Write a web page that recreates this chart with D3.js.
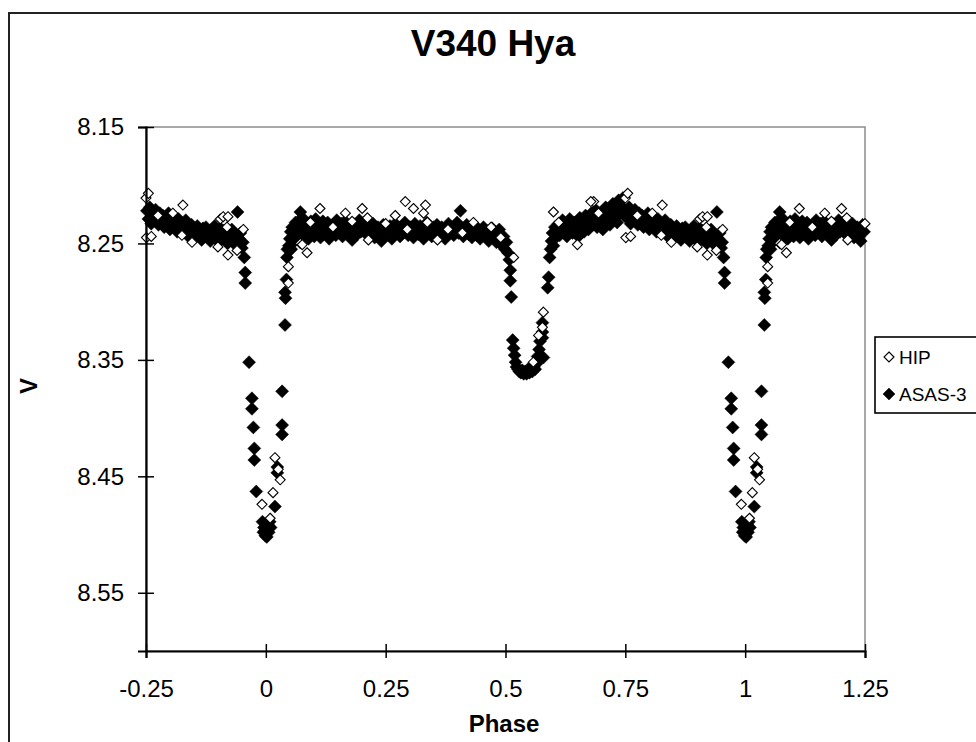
<!DOCTYPE html>
<html>
<head>
<meta charset="utf-8">
<script src="https://cdn.jsdelivr.net/npm/d3@7"></script>
<style>
  html, body { margin: 0; padding: 0; background: #ffffff; }
  svg { display: block; }
  text { font-family: "Liberation Sans", Arial, sans-serif; fill: #000; }
</style>
</head>
<body>
<svg id="chart" width="976" height="742"></svg>
<script>
// ---------------- data (phase-folded light curve, one cycle) ----------------
const title = "V340 Hya";
const xLabel = "Phase";
const yLabel = "V";
const seriesNames = ["HIP", "ASAS-3"];
const xTicks = [-0.25, 0, 0.25, 0.5, 0.75, 1, 1.25];
const xTickLabels = ["-0.25", "0", "0.25", "0.5", "0.75", "1", "1.25"];
const yTicks = [8.15, 8.25, 8.35, 8.45, 8.55];
const yTickLabels = ["8.15", "8.25", "8.35", "8.45", "8.55"];
const xDomain = [-0.25, 1.25];
const yDomain = [8.15, 8.6];
// the folded cycle is repeated to fill the phase range shown
const cycleShifts = [-1, 0, 1];

// HIP (Hipparcos) points: [phase, V]
const hip = [
  [0.009, 8.486], [0.015, 8.464], [0.019, 8.434], [0.030, 8.453], [0.026, 8.444],
  [0.047, 8.270], [0.047, 8.284], [0.072, 8.250], [0.076, 8.251], [0.086, 8.258],
  [0.093, 8.232], [0.113, 8.220], [0.140, 8.236], [0.166, 8.224], [0.180, 8.231],
  [0.201, 8.220], [0.212, 8.228], [0.214, 8.247], [0.250, 8.233], [0.270, 8.226],
  [0.291, 8.214], [0.295, 8.238], [0.308, 8.220], [0.329, 8.224], [0.333, 8.217],
  [0.337, 8.232], [0.358, 8.247], [0.380, 8.238], [0.410, 8.241], [0.433, 8.232],
  [0.470, 8.236], [0.490, 8.245], [0.517, 8.262], [0.558, 8.352], [0.569, 8.329],
  [0.577, 8.322], [0.579, 8.309], [0.600, 8.223], [0.611, 8.232], [0.650, 8.251],
  [0.684, 8.214], [0.678, 8.214], [0.694, 8.224], [0.750, 8.211], [0.751, 8.245],
  [0.755, 8.207], [0.761, 8.244], [0.775, 8.226], [0.806, 8.224], [0.825, 8.243],
  [0.827, 8.217], [0.846, 8.249], [0.900, 8.253], [0.905, 8.229], [0.911, 8.227],
  [0.919, 8.236], [0.921, 8.227], [0.921, 8.260], [0.940, 8.256], [0.953, 8.238],
  [0.992, 8.474]
];

// ASAS-3 points: [phase, V]
const asas = [
  // primary minimum and egress
  [0.001, 8.499], [0.002, 8.502], [0.003, 8.496], [0.005, 8.492], [0.006, 8.498],
  [0.008, 8.489], [0.010, 8.494], [0.019, 8.476],
  [0.024, 8.442], [0.024, 8.447], [0.034, 8.406], [0.034, 8.414], [0.034, 8.377],
  [0.040, 8.320], [0.040, 8.292], [0.041, 8.297], [0.043, 8.281], [0.044, 8.262],
  [0.045, 8.255],
  // out of eclipse, phase 0.05 - 0.50
  [0.048, 8.252], [0.050, 8.246], [0.052, 8.240], [0.053, 8.255], [0.055, 8.236],
  [0.057, 8.244], [0.058, 8.249], [0.060, 8.238], [0.062, 8.232], [0.064, 8.243],
  [0.066, 8.236], [0.068, 8.247], [0.070, 8.230], [0.072, 8.223], [0.072, 8.240],
  [0.074, 8.235], [0.077, 8.244], [0.079, 8.229], [0.081, 8.238], [0.084, 8.242],
  [0.086, 8.233], [0.089, 8.246], [0.091, 8.236], [0.094, 8.231], [0.096, 8.241],
  [0.099, 8.237], [0.101, 8.244], [0.104, 8.229], [0.106, 8.236], [0.109, 8.240],
  [0.111, 8.233], [0.114, 8.245], [0.116, 8.238], [0.119, 8.231], [0.121, 8.242],
  [0.124, 8.236], [0.127, 8.240], [0.129, 8.232], [0.132, 8.246], [0.135, 8.237],
  [0.137, 8.241], [0.140, 8.234], [0.143, 8.238], [0.146, 8.243], [0.148, 8.230],
  [0.151, 8.236], [0.154, 8.240], [0.157, 8.233], [0.160, 8.244], [0.162, 8.237],
  [0.165, 8.231], [0.168, 8.239], [0.171, 8.242], [0.174, 8.235], [0.177, 8.240],
  [0.180, 8.247], [0.183, 8.233], [0.186, 8.238], [0.189, 8.243], [0.192, 8.236],
  [0.195, 8.230], [0.198, 8.240], [0.201, 8.236], [0.204, 8.232], [0.207, 8.241],
  [0.210, 8.237], [0.213, 8.235], [0.217, 8.243], [0.220, 8.238], [0.224, 8.233],
  [0.227, 8.245], [0.231, 8.239], [0.234, 8.236], [0.238, 8.242], [0.241, 8.248],
  [0.245, 8.234], [0.248, 8.240], [0.252, 8.237], [0.256, 8.243], [0.259, 8.235],
  [0.263, 8.246], [0.266, 8.239], [0.270, 8.233], [0.273, 8.241], [0.277, 8.237],
  [0.280, 8.244], [0.284, 8.236], [0.287, 8.240], [0.290, 8.232], [0.294, 8.238],
  [0.297, 8.243], [0.301, 8.236], [0.304, 8.240], [0.308, 8.245], [0.311, 8.233],
  [0.315, 8.238], [0.318, 8.242], [0.322, 8.235], [0.325, 8.240], [0.329, 8.246],
  [0.332, 8.237], [0.336, 8.232], [0.339, 8.241], [0.343, 8.238], [0.346, 8.244],
  [0.350, 8.236], [0.353, 8.240], [0.357, 8.234], [0.360, 8.239], [0.364, 8.243],
  [0.367, 8.236], [0.371, 8.241], [0.374, 8.246], [0.378, 8.238], [0.381, 8.233],
  [0.385, 8.240], [0.388, 8.236], [0.392, 8.243], [0.395, 8.238], [0.399, 8.232],
  [0.402, 8.241], [0.406, 8.222], [0.409, 8.237], [0.412, 8.244], [0.416, 8.239],
  [0.419, 8.234], [0.423, 8.242], [0.426, 8.237], [0.430, 8.245], [0.433, 8.240],
  [0.437, 8.235], [0.440, 8.243], [0.444, 8.238], [0.447, 8.246], [0.451, 8.240],
  [0.454, 8.236], [0.458, 8.244], [0.461, 8.239], [0.465, 8.248], [0.468, 8.241],
  [0.472, 8.237], [0.475, 8.245], [0.478, 8.240], [0.481, 8.249], [0.484, 8.243],
  [0.487, 8.238], [0.490, 8.247], [0.493, 8.252], [0.496, 8.244], [0.499, 8.255],
  [0.502, 8.249], [0.505, 8.258],
  // secondary eclipse
  [0.508, 8.264], [0.510, 8.273], [0.510, 8.282], [0.512, 8.296], [0.515, 8.333],
  [0.517, 8.340], [0.519, 8.346], [0.521, 8.352], [0.523, 8.356], [0.526, 8.358],
  [0.529, 8.360], [0.532, 8.361], [0.535, 8.359], [0.538, 8.362], [0.541, 8.360],
  [0.544, 8.362], [0.547, 8.358], [0.550, 8.361], [0.553, 8.357], [0.556, 8.360],
  [0.559, 8.356], [0.562, 8.358], [0.565, 8.353], [0.567, 8.347], [0.570, 8.341],
  [0.572, 8.334], [0.577, 8.331], [0.577, 8.326], [0.577, 8.318], [0.579, 8.348],
  [0.588, 8.288], [0.590, 8.279],
  // out of eclipse, phase 0.59 - 0.95
  [0.592, 8.262], [0.594, 8.255], [0.596, 8.248], [0.598, 8.241], [0.600, 8.252],
  [0.603, 8.236], [0.605, 8.245], [0.608, 8.240], [0.611, 8.233], [0.613, 8.243],
  [0.616, 8.237], [0.619, 8.230], [0.622, 8.240], [0.625, 8.234], [0.628, 8.244],
  [0.631, 8.238], [0.634, 8.229], [0.637, 8.236], [0.640, 8.241], [0.643, 8.232],
  [0.646, 8.239], [0.649, 8.234], [0.652, 8.244], [0.655, 8.228], [0.658, 8.236],
  [0.661, 8.231], [0.664, 8.240], [0.667, 8.226], [0.670, 8.233], [0.673, 8.238],
  [0.676, 8.229], [0.679, 8.224], [0.682, 8.234], [0.685, 8.230], [0.688, 8.221],
  [0.691, 8.236], [0.694, 8.228], [0.697, 8.232], [0.700, 8.224], [0.703, 8.238],
  [0.706, 8.227], [0.709, 8.219], [0.712, 8.231], [0.715, 8.225], [0.718, 8.234],
  [0.721, 8.222], [0.724, 8.216], [0.727, 8.228], [0.730, 8.220], [0.733, 8.232],
  [0.736, 8.213], [0.739, 8.224], [0.742, 8.218], [0.745, 8.211], [0.748, 8.226],
  [0.752, 8.222], [0.755, 8.229], [0.758, 8.219], [0.761, 8.233], [0.764, 8.225],
  [0.767, 8.230], [0.770, 8.221], [0.773, 8.228], [0.776, 8.234], [0.779, 8.224],
  [0.782, 8.230], [0.785, 8.226], [0.788, 8.236], [0.791, 8.229], [0.794, 8.233],
  [0.797, 8.224], [0.800, 8.238], [0.803, 8.231], [0.806, 8.227], [0.809, 8.236],
  [0.812, 8.232], [0.815, 8.240], [0.818, 8.229], [0.821, 8.235], [0.824, 8.241],
  [0.827, 8.233], [0.830, 8.238], [0.833, 8.230], [0.836, 8.243], [0.839, 8.236],
  [0.842, 8.240], [0.845, 8.234], [0.848, 8.245], [0.851, 8.238], [0.854, 8.242],
  [0.857, 8.235], [0.860, 8.244], [0.863, 8.239], [0.866, 8.247], [0.869, 8.237],
  [0.872, 8.242], [0.875, 8.236], [0.878, 8.245], [0.881, 8.240], [0.884, 8.248],
  [0.887, 8.238], [0.890, 8.243], [0.893, 8.235], [0.896, 8.246], [0.899, 8.241],
  [0.902, 8.249], [0.905, 8.237], [0.908, 8.244], [0.911, 8.239], [0.914, 8.247],
  [0.917, 8.242], [0.920, 8.250], [0.923, 8.240], [0.926, 8.245], [0.929, 8.238],
  [0.932, 8.248], [0.935, 8.243], [0.938, 8.252], [0.941, 8.223], [0.944, 8.246],
  [0.947, 8.241], [0.950, 8.254], [0.952, 8.249], [0.955, 8.262],
  // primary ingress
  [0.957, 8.275], [0.957, 8.284], [0.965, 8.352], [0.971, 8.383], [0.971, 8.392],
  [0.974, 8.408], [0.976, 8.426], [0.976, 8.436], [0.980, 8.463], [0.993, 8.489],
  [0.995, 8.498], [0.996, 8.494], [0.998, 8.497], [0.999, 8.501]
];

// ---------------- drawing ----------------
const svg = d3.select("#chart");
const W = 976, H = 742;

const x = d3.scaleLinear().domain(xDomain).range([146, 865]);
const y = d3.scaleLinear().domain(yDomain).range([127, 651]);

// chart area border (extends past the right and bottom edges)
svg.append("rect")
  .attr("x", 9).attr("y", 13).attr("width", W + 20).attr("height", H + 20)
  .attr("fill", "#ffffff").attr("stroke", "#222").attr("stroke-width", 2);

// plot area frame (grey top/right)
svg.append("rect")
  .attr("x", x.range()[0]).attr("y", y.range()[0])
  .attr("width", x.range()[1] - x.range()[0])
  .attr("height", y.range()[1] - y.range()[0])
  .attr("fill", "#ffffff").attr("stroke", "#8c8c8c").attr("stroke-width", 1.5);

// title
svg.append("text")
  .attr("x", 493).attr("y", 56)
  .attr("text-anchor", "middle")
  .style("font-size", "37px").style("font-weight", "bold")
  .text(title);

// unfold cycle into the displayed phase range
function unfold(data) {
  const out = [];
  cycleShifts.forEach(s => {
    data.forEach(d => {
      const p = d[0] + s;
      if (p >= xDomain[0] - 1e-9 && p <= xDomain[1] + 1e-9) out.push([p, d[1]]);
    });
  });
  return out;
}

const diamond = r => `M0,${-r}L${r},0L0,${r}L${-r},0Z`;

const plot = svg.append("g");

// ASAS-3 filled diamonds
plot.append("g").selectAll("path")
  .data(unfold(asas)).join("path")
  .attr("transform", d => `translate(${x(d[0])},${y(d[1])})`)
  .attr("d", diamond(6.5))
  .attr("fill", "#000").attr("stroke", "#000").attr("stroke-width", 0.5);

// HIP hollow diamonds
plot.append("g").selectAll("path")
  .data(unfold(hip)).join("path")
  .attr("transform", d => `translate(${x(d[0])},${y(d[1])})`)
  .attr("d", diamond(5))
  .attr("fill", "#fff").attr("stroke", "#000").attr("stroke-width", 1.1);

// axes
const xAxis = d3.axisBottom(x).tickValues(xTicks)
  .tickFormat((d, i) => xTickLabels[i]).tickSize(7).tickPadding(22);
const gx = svg.append("g").attr("transform", `translate(0,${y.range()[1]})`).call(xAxis);
gx.select(".domain").attr("stroke", "#000").attr("stroke-width", 2.2);
gx.selectAll(".tick line").attr("y1", -7).attr("y2", 7).attr("stroke", "#000").attr("stroke-width", 1.5);
gx.selectAll(".tick text").style("font-size", "24px").attr("fill", "#000")
  .attr("font-family", null);

const yAxis = d3.axisLeft(y).tickValues(yTicks)
  .tickFormat((d, i) => yTickLabels[i]).tickSize(8).tickPadding(14);
const gy = svg.append("g").attr("transform", `translate(${x.range()[0]},0)`).call(yAxis);
gy.select(".domain").attr("stroke", "#000").attr("stroke-width", 2.2);
gy.selectAll(".tick line").attr("x1", -8).attr("x2", 8).attr("stroke", "#000").attr("stroke-width", 1.5);
gy.selectAll(".tick text").style("font-size", "24px").attr("fill", "#000")
  .attr("font-family", null);

// axis titles
svg.append("text")
  .attr("x", 504).attr("y", 732)
  .attr("text-anchor", "middle")
  .style("font-size", "24px").style("font-weight", "bold")
  .text(xLabel);

svg.append("text")
  .attr("transform", "translate(37,386) rotate(-90)")
  .attr("text-anchor", "middle")
  .style("font-size", "24px").style("font-weight", "bold")
  .text(yLabel);

// legend
const lg = svg.append("g");
lg.append("rect")
  .attr("x", 875).attr("y", 337).attr("width", 130).attr("height", 76)
  .attr("fill", "#fff").attr("stroke", "#000").attr("stroke-width", 1.6);
const legendRows = [
  { name: seriesNames[0], cy: 357, r: 5, fill: "#fff", sw: 1.1 },
  { name: seriesNames[1], cy: 394, r: 6, fill: "#000", sw: 0.5 }
];
legendRows.forEach(row => {
  lg.append("path")
    .attr("transform", `translate(889,${row.cy})`)
    .attr("d", diamond(row.r))
    .attr("fill", row.fill).attr("stroke", "#000").attr("stroke-width", row.sw);
  lg.append("text")
    .attr("x", 899).attr("y", row.cy + 7)
    .style("font-size", "19px")
    .text(row.name);
});
</script>
</body>
</html>
